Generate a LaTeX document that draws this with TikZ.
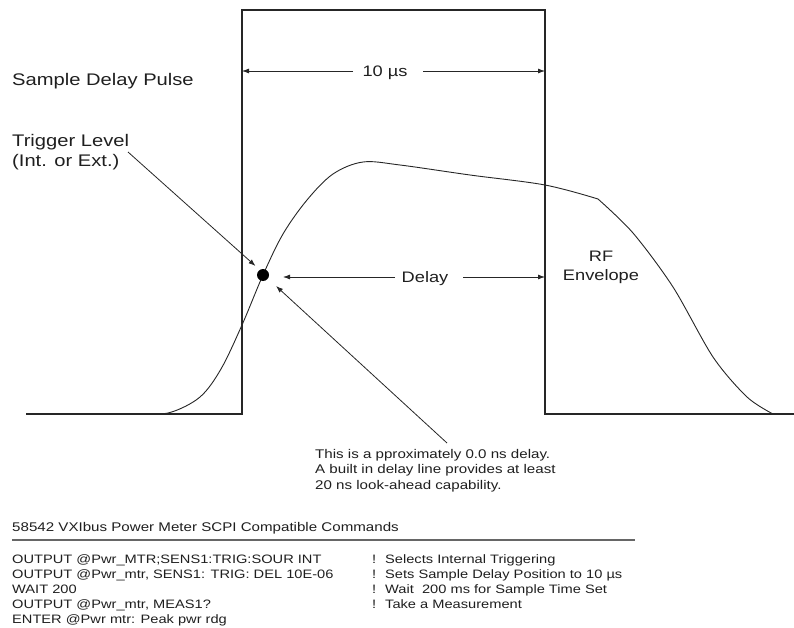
\documentclass[tikz,border=0pt]{standalone}
\usepackage{fontspec}
\setmainfont{Liberation Sans}[FakeStretch=1.2]
\usetikzlibrary{arrows.meta}
\tikzset{
  pulse/.style={draw=black!85, line width=1.2bp},
  env/.style={draw=black!85, line width=0.9bp},
  arr/.style={draw=black!85, line width=0.8bp, -{Latex[length=7bp,width=5bp]}},
  txt/.style={inner sep=0pt, text=black!88},
  big/.style={txt, font=\fontsize{16.8bp}{20bp}\selectfont},
  mid/.style={txt, font=\fontsize{15.2bp}{18bp}\selectfont},
  small/.style={txt, font=\fontsize{12.6bp}{15bp}\selectfont},
  cmd/.style={txt, font=\fontsize{12.2bp}{15bp}\selectfont},
  rulestyle/.style={draw=black!60, line width=1.4bp}
}
\begin{document}
\begin{tikzpicture}[x=1bp,y=-1bp]
\useasboundingbox (0,0) rectangle (794,628);

% pulse
\coordinate (b0) at (26,414);
\coordinate (b1) at (242,414);
\coordinate (t1) at (242,10);
\coordinate (t2) at (545,10);
\coordinate (b2) at (545,414);
\coordinate (b3) at (794,414);
\draw[pulse] (b0) -- (b1) -- (t1) -- (t2) -- (b2) -- (b3);

% RF envelope
\draw[env] plot[smooth, tension=0.55] coordinates {(91,414.5) (140,414) (170,412.5) (200,397) (221,369) (242,325) (263,275) (283,234) (307,200) (333,174) (363,162) (400,165) (470,175) (545,185) (598,199)};
\draw[env] plot[smooth, tension=0.5] coordinates {(598,199) (633,233) (673,287) (713,357) (747,397) (773,414)};

% trigger dot
\node[circle, fill=black, inner sep=0pt, minimum size=12bp] (dot) at (263,275) {};

% labels
\node[big, anchor=base west] (sdp) at (12,86) {Sample Delay Pulse};
\node[big, anchor=base west] (trig1) at (12,147) {Trigger Level};
\node[big, anchor=base west] (trig2) at (12,167) {(Int. or Ext.)};

\node[mid, anchor=base] (ten) at (385,76.5) {10 µs};
\node[mid, anchor=base] (delay) at (425,282.5) {Delay};
\node[mid, anchor=base] (rf1) at (601,261) {RF};
\node[mid, anchor=base] (rf2) at (601,280) {Envelope};

% 10 us dimension
\coordinate (tenL) at (353,71);
\coordinate (tenLt) at (242,71);
\coordinate (tenR) at (423,71);
\coordinate (tenRt) at (545,71);
\draw[arr] (tenL) -- (tenLt);
\draw[arr] (tenR) -- (tenRt);

% delay dimension
\coordinate (dL) at (395,277);
\coordinate (dLt) at (283,277);
\coordinate (dR) at (463,277);
\coordinate (dRt) at (545,277);
\draw[arr] (dL) -- (dLt);
\draw[arr] (dR) -- (dRt);

% pointer arrows
\coordinate (trigS) at (128,152);
\coordinate (trigT) at (255.5,266);
\draw[arr] (trigS) -- (trigT);
\coordinate (noteS) at (447,443);
\coordinate (noteT) at (276,286);
\draw[arr] (noteS) -- (noteT);

% note
\node[small, anchor=base west] (n1) at (315,458) {This is a pproximately 0.0 ns delay.};
\node[small, anchor=base west] (n2) at (315,473.5) {A built in delay line provides at least};
\node[small, anchor=base west] (n3) at (315,489) {20 ns look-ahead capability.};

% command table
\node[small, anchor=base west] (title) at (12,531) {58542 VXIbus Power Meter SCPI Compatible Commands};
\coordinate (rL) at (12,540);
\coordinate (rR) at (635,540);
\draw[rulestyle] (rL) -- (rR);

\node[cmd, anchor=base west] (c1) at (12,563) {OUTPUT @Pwr\_MTR;SENS1:TRIG:SOUR INT};
\node[cmd, anchor=base west] (c2) at (12,578) {OUTPUT @Pwr\_mtr, SENS1: TRIG: DEL 10E-06};
\node[cmd, anchor=base west] (c3) at (12,593) {WAIT 200};
\node[cmd, anchor=base west] (c4) at (12,608) {OUTPUT @Pwr\_mtr, MEAS1?};
\node[cmd, anchor=base west] (c5) at (12,623) {ENTER @Pwr mtr: Peak pwr rdg};

\node[cmd, anchor=base west] (e1) at (372,563) {!};
\node[cmd, anchor=base west] (e2) at (372,578) {!};
\node[cmd, anchor=base west] (e3) at (372,593) {!};
\node[cmd, anchor=base west] (e4) at (372,608) {!};
\node[cmd, anchor=base west] (m1) at (385,563) {Selects Internal Triggering};
\node[cmd, anchor=base west] (m2) at (385,578) {Sets Sample Delay Position to 10 µs};
\node[cmd, anchor=base west] (m3) at (385,593) {Wait\ \ 200 ms for Sample Time Set};
\node[cmd, anchor=base west] (m4) at (385,608) {Take a Measurement};
\end{tikzpicture}
\end{document}
